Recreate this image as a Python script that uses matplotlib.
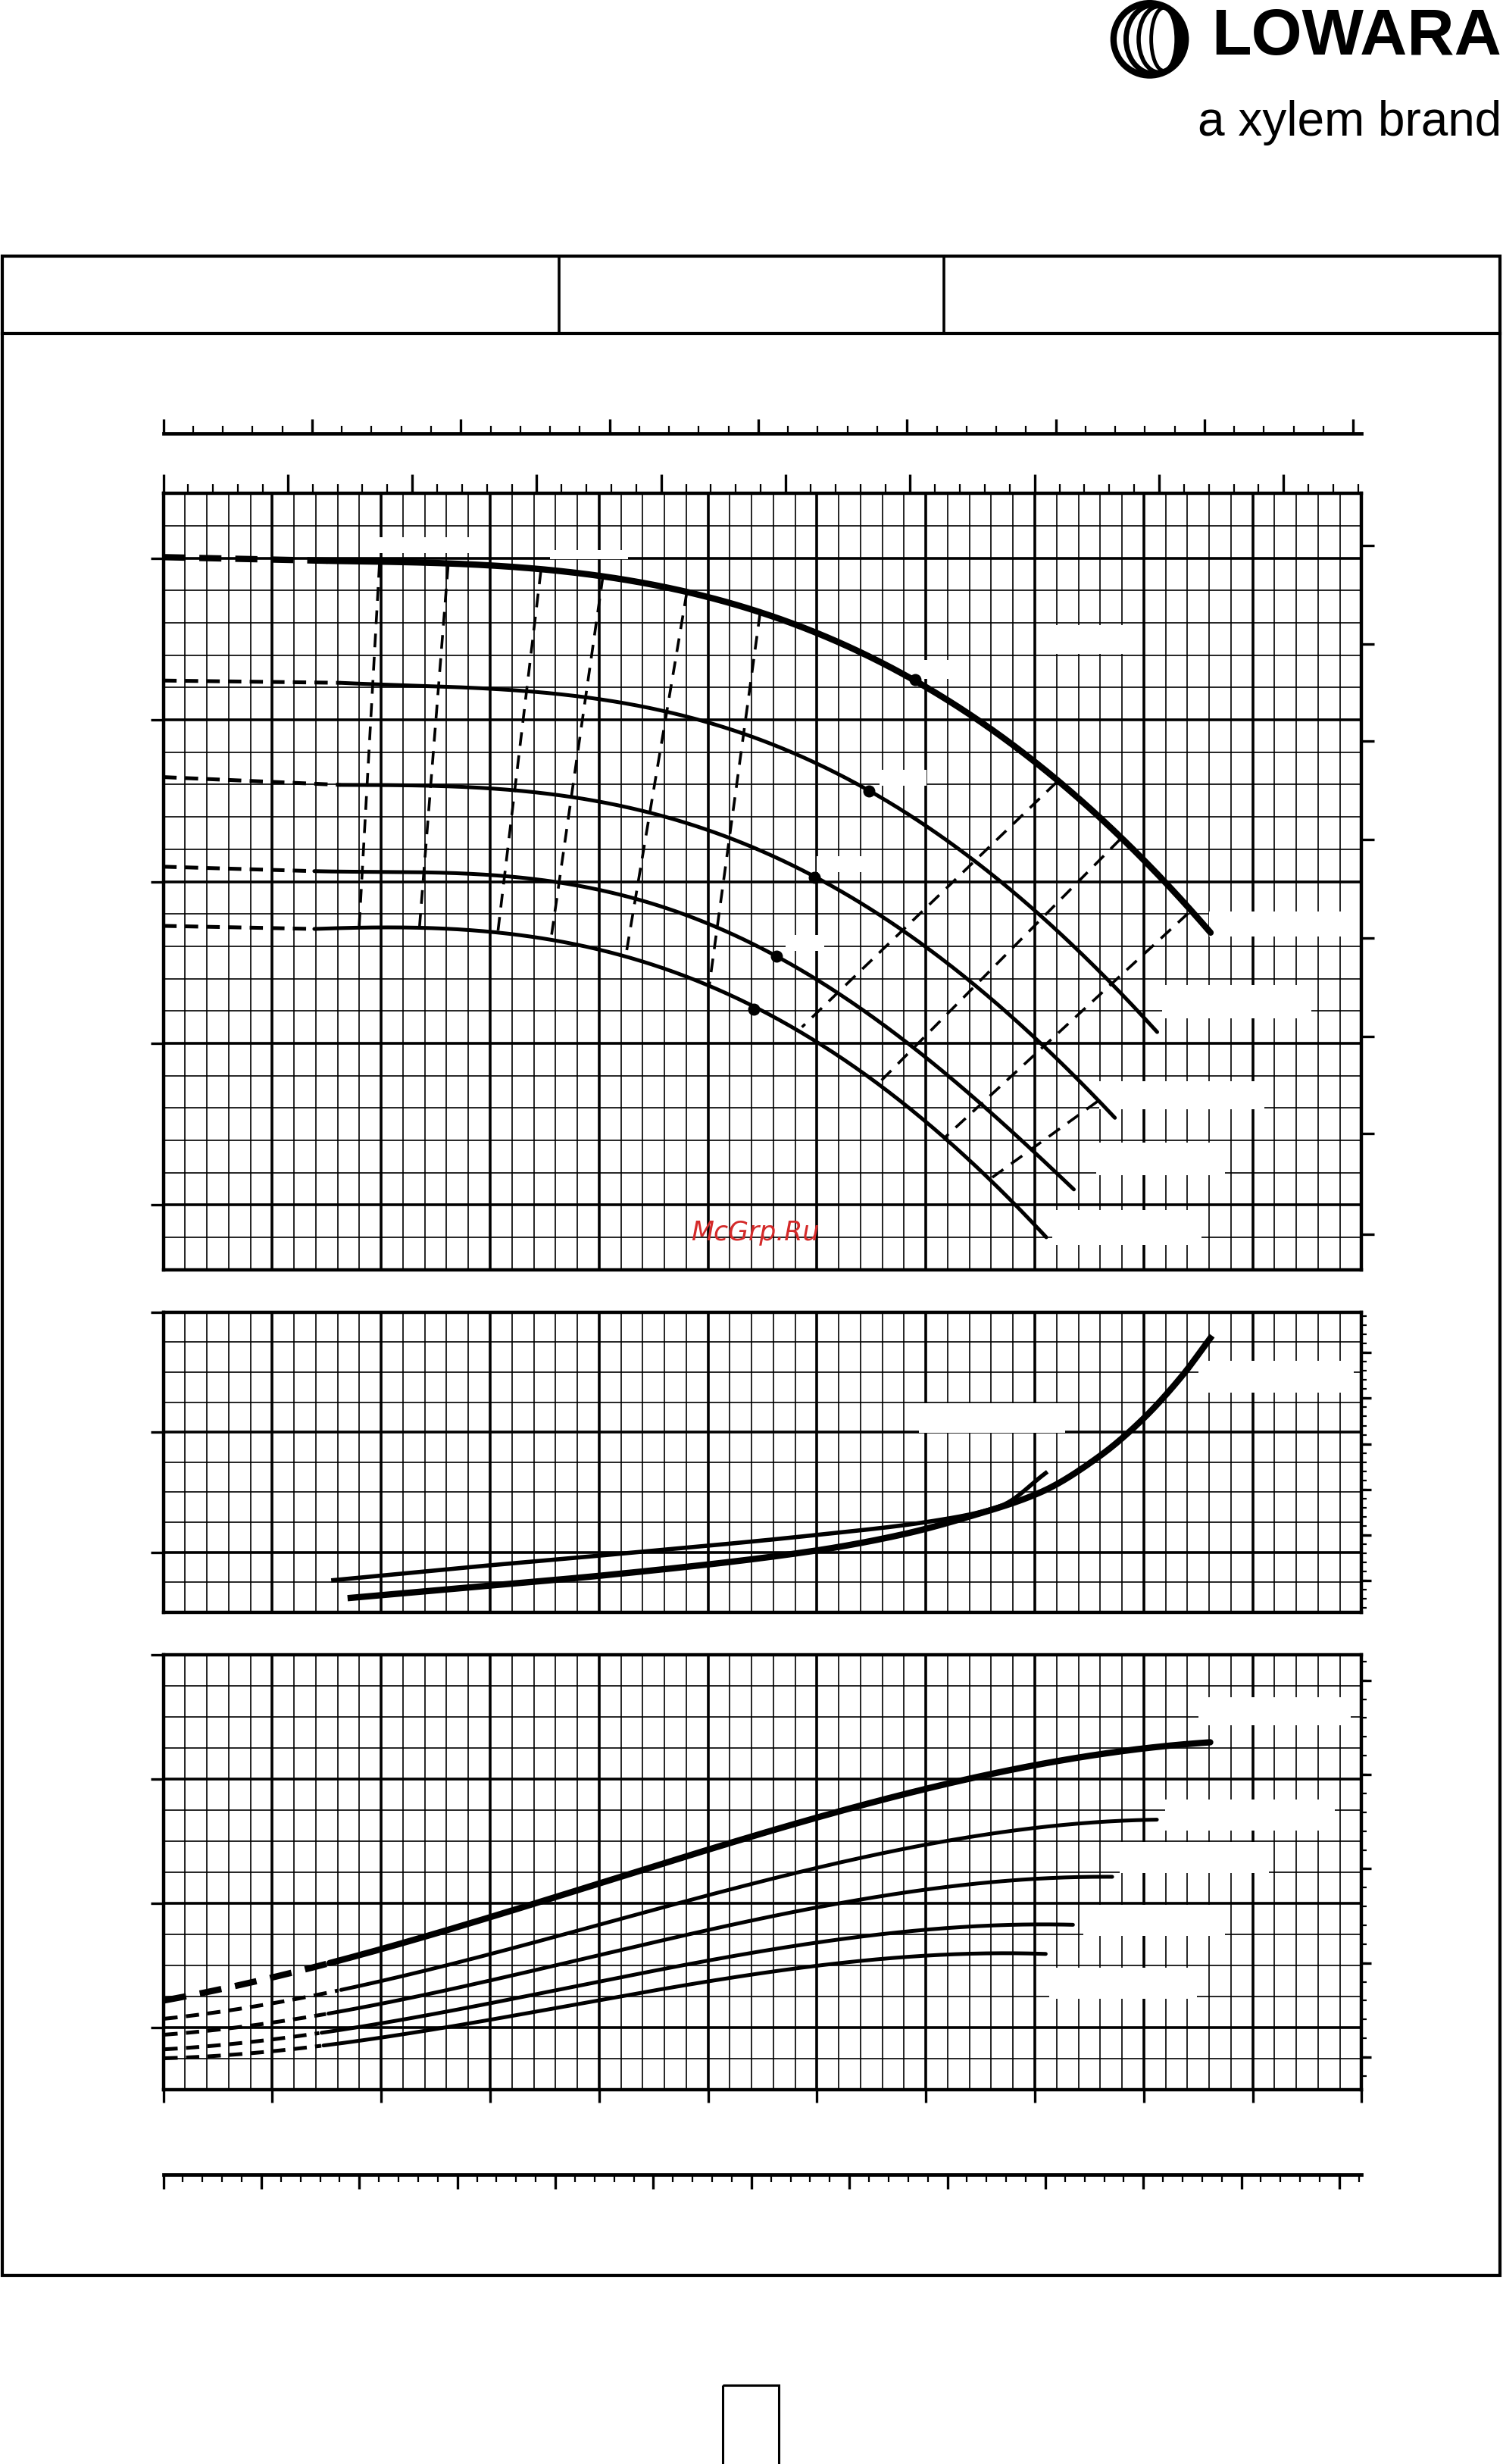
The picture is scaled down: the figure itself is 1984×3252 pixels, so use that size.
import numpy as np
import matplotlib
matplotlib.use("Agg")
import matplotlib.pyplot as plt
from matplotlib.patches import Rectangle, Ellipse

# ---- data (x in flow units = major grid columns) ----
# head curves: read points and the x where the dashed start ends
h_x = [
    [0, 1.506, 1.984, 2.602, 3.339, 3.996, 4.813, 5.45, 6.013, 6.903, 7.521, 8.199, 8.784, 9.217, 9.613],
    [0, 1.625, 2.542, 3.339, 3.996, 4.813, 5.331, 6.013, 6.477, 6.993, 7.521, 8.011, 8.501, 9.123],
    [0, 1.625, 2.542, 3.339, 3.996, 4.534, 5.331, 5.975, 6.616, 7.370, 8.011, 8.388, 8.735],
    [0, 1.386, 2.143, 3.06, 3.737, 4.335, 5.131, 5.628, 6.239, 6.88, 7.521, 7.973, 8.358],
    [0, 1.386, 2.143, 2.94, 3.578, 4.135, 4.733, 5.417, 6.013, 6.616, 7.182, 7.596, 8.105],
]
h_y = [
    [4.406, 4.385, 4.375, 4.364, 4.35, 4.295, 4.176, 4.061, 3.946, 3.648, 3.378, 3.027, 2.676, 2.379, 2.087],
    [3.643, 3.626, 3.611, 3.58, 3.528, 3.413, 3.308, 3.122, 2.959, 2.757, 2.514, 2.216, 1.865, 1.487],
    [3.046, 2.998, 2.99, 2.957, 2.9, 2.806, 2.639, 2.427, 2.189, 1.784, 1.433, 1.19, 0.933],
    [2.492, 2.465, 2.461, 2.433, 2.377, 2.293, 2.136, 1.938, 1.649, 1.379, 1.028, 0.757, 0.482],
    [2.126, 2.111, 2.111, 2.084, 2.042, 1.969, 1.843, 1.609, 1.392, 1.122, 0.812, 0.568, 0.19],
]
h_dash_end = [1.506, 1.625, 1.625, 1.386, 1.386]
h_widths = [6.0, 3.6, 3.6, 3.6, 3.6]

# best efficiency points
bep_x = [6.903, 6.477, 5.975, 5.628, 5.417]
bep_h = [3.648, 2.959, 2.427, 1.938, 1.609]

# iso-efficiency dashed lines (x0, h0, x1, h1)
iso_left = [(1.984, 4.364, 1.797, 2.115), (2.614, 4.354, 2.351, 2.115),
            (3.466, 4.323, 3.072, 2.095), (4.036, 4.291, 3.558, 2.042),
            (4.805, 4.187, 4.247, 1.948), (5.478, 4.061, 5.012, 1.760)]
iso_right = [(8.199, 3.014, 5.862, 1.500), (8.784, 2.662, 6.541, 1.136),
             (9.406, 2.203, 7.163, 0.811), (8.576, 1.041, 7.577, 0.555)]

# middle chart
p_thin_x = [1.56, 2.80, 4.07, 6.03, 7.08, 7.69, 8.10]
p_thin_y = [1.07, 1.50, 1.91, 2.59, 3.05, 3.55, 4.64]
p_thick_x = [1.72, 2.90, 4.07, 5.96, 6.78, 7.38, 8.06, 8.59, 8.97, 9.35, 9.61]
p_thick_y = [0.48, 0.86, 1.24, 2.04, 2.59, 3.17, 4.01, 5.19, 6.36, 7.87, 9.13]

# bottom chart curves
e_x = [
    [0.01, 0.90, 1.52, 2.56, 3.46, 4.45, 5.95, 7.08, 8.21, 9.61],
    [0.01, 1.05, 1.62, 2.56, 3.77, 5.95, 7.46, 9.12],
    [0.01, 1.05, 1.50, 2.94, 4.97, 6.33, 8.71],
    [0.01, 1.05, 1.45, 2.94, 4.97, 7.08, 8.35],
    [0.01, 1.05, 1.45, 2.94, 4.97, 6.60, 8.10],
]
e_y = [
    [2.92, 3.53, 4.02, 5.06, 6.06, 7.22, 8.74, 9.72, 10.52, 11.22],
    [2.36, 2.79, 3.10, 3.90, 5.31, 7.09, 8.07, 8.74],
    [1.85, 2.12, 2.35, 3.59, 5.19, 5.98, 6.88],
    [1.38, 1.58, 1.74, 2.85, 4.20, 5.06, 5.37],
    [1.08, 1.20, 1.35, 2.30, 3.55, 4.10, 4.42],
]
e_dash_end = [1.52, 1.62, 1.50, 1.45, 1.45]
e_widths = [6.0, 3.6, 3.6, 3.6, 3.6]

W, H = 957.0, 1568.0
DASH = (0, (3.5, 2.2))


def box(x0, y0, x1, y1):
    return [x0 / W, 1 - y1 / H, (x1 - x0) / W, (y1 - y0) / H]


def pchip(x, y, n=400):
    # monotone cubic (Fritsch-Carlson) through the read points
    x = np.asarray(x, float)
    y = np.asarray(y, float)
    h = np.diff(x)
    d = np.diff(y) / h
    m = np.zeros_like(y)
    m[0], m[-1] = d[0], d[-1]
    for i in range(1, len(x) - 1):
        if d[i - 1] * d[i] <= 0:
            m[i] = 0
        else:
            w1, w2 = 2 * h[i] + h[i - 1], h[i] + 2 * h[i - 1]
            m[i] = (w1 + w2) / (w1 / d[i - 1] + w2 / d[i])
    xs = np.linspace(x[0], x[-1], n)
    k = np.clip(np.searchsorted(x, xs) - 1, 0, len(x) - 2)
    t = (xs - x[k]) / h[k]
    h00 = 2 * t ** 3 - 3 * t ** 2 + 1
    h10 = t ** 3 - 2 * t ** 2 + t
    h01 = -2 * t ** 3 + 3 * t ** 2
    h11 = t ** 3 - t ** 2
    ys = h00 * y[k] + h10 * h[k] * m[k] + h01 * y[k + 1] + h11 * h[k] * m[k + 1]
    return xs, ys


def draw_head(ax, x, y, xd, lw):
    # solid part: least-squares smoothing of the read points; dashed start: straight
    x = np.asarray(x, float)
    y = np.asarray(y, float)
    sel = x >= xd - 1e-9
    c = np.polyfit(x[sel], y[sel], 4)
    xs = np.linspace(xd, x[-1], 400)
    ys = np.polyval(c, xs)
    ax.plot([x[0], xd], [y[0], ys[0]], color="black", lw=lw, ls=DASH, zorder=3)
    ax.plot(xs, ys, color="black", lw=lw, zorder=3, solid_capstyle="round")


def draw_power(ax, x, y, xd, lw):
    c = np.polyfit(x, y, 3)
    xs = np.linspace(x[0], x[-1], 400)
    ys = np.polyval(c, xs)
    d = xs <= xd
    ax.plot(xs[d], ys[d], color="black", lw=lw, ls=DASH, zorder=3)
    s = xs >= xd
    ax.plot(xs[s], ys[s], color="black", lw=lw, zorder=3, solid_capstyle="round")


def grid(ax, xmax, ymax, ystep, ymajors):
    for xv in np.arange(0, xmax + 1e-6, 0.2):
        major = abs(xv - round(xv)) < 1e-6
        ax.axvline(xv, color="black", lw=2.6 if major else 1.2, zorder=1)
    for yv in np.arange(ymajors[0] % ystep, ymax + 1e-6, ystep):
        major = any(abs(yv - m) < 1e-6 for m in ymajors)
        ax.axhline(yv, color="black", lw=2.6 if major else 1.2, zorder=1)
    ax.set_xlim(0, xmax)
    ax.set_ylim(0, ymax)
    for s in ax.spines.values():
        s.set_linewidth(3.2)
    ax.set_xticks([])
    ax.set_yticks([])


def right_ticks(ax, majors, minors, major_len=12, minor_len=6):
    t = ax.twinx()
    t.set_ylim(ax.get_ylim())
    t.set_yticks(majors)
    t.set_yticks(minors, minor=True)
    t.tick_params(axis="y", which="major", length=major_len, width=2.4, labelright=False)
    t.tick_params(axis="y", which="minor", length=minor_len, width=1.6)
    for s in t.spines.values():
        s.set_visible(False)
    return t


def white(ax, rects):
    for (x0, y0, x1, y1) in rects:
        ax.add_patch(Rectangle((x0 / W, 1 - y1 / H), (x1 - x0) / W, (y1 - y0) / H,
                               transform=ax.figure.transFigure, facecolor="white",
                               edgecolor="none", zorder=1.5))


fig = plt.figure(figsize=(19.84, 32.52), dpi=100)

# page frame
frame = fig.add_axes([0, 0, 1, 1])
frame.set_xlim(0, W)
frame.set_ylim(H, 0)
frame.axis("off")
frame.add_patch(Rectangle((1.5, 163), 953.5, 1285, fill=False, lw=3.0, ec="black"))
frame.plot([1.5, 955], [212, 212], color="black", lw=3.0)
frame.plot([356, 356], [163, 212], color="black", lw=2.6)
frame.plot([601, 601], [163, 212], color="black", lw=2.6)
frame.add_patch(Rectangle((460, 1518), 36, 60, fill=False, lw=2.2, ec="black"))

# logo
for i, (w, lw) in enumerate([(46, 6), (36, 5), (26, 4), (16, 3.5)]):
    frame.add_patch(Ellipse((732 + i * 3, 25), w, 46 - i * 2, fill=False, lw=lw, ec="black"))
frame.text(956, 24, "LOWARA", ha="right", va="center", fontsize=62,
           fontweight="bold", family="Liberation Sans", color="black")
frame.text(956, 78, "a xylem brand", ha="right", va="center", fontsize=46,
           family="Liberation Sans", color="black")

# top scale 1
s1 = fig.add_axes(box(104, 270, 867, 276))
s1.set_xlim(0, 763 / 94.7)
for k in ("top", "left", "right"):
    s1.spines[k].set_visible(False)
s1.spines["bottom"].set_linewidth(3.4)
s1.set_yticks([])
s1.set_xticks(np.arange(0, 9))
s1.set_xticks(np.arange(0, 8.06, 0.2), minor=True)
s1.tick_params(axis="x", which="major", direction="in", length=14, width=2.4, labelbottom=False)
s1.tick_params(axis="x", which="minor", direction="in", length=7, width=1.6)
s1.patch.set_alpha(0)

# head chart
axh = fig.add_axes(box(104, 314, 867, 808))
grid(axh, 11, 4.80, 0.2, [0.4, 1.4, 2.4, 3.4, 4.4])
axh.set_yticks([0.4, 1.4, 2.4, 3.4, 4.4])
axh.tick_params(axis="y", length=12, width=2.4, labelleft=False)
right_ticks(axh, [4.48, 3.87, 3.27, 2.66, 2.05, 1.44, 0.84, 0.22], [])
top = axh.twiny()
top.set_xlim(0, 11)
top.set_xticks(np.arange(0, 11.01, 1.1425))
top.set_xticks(np.arange(0, 11.01, 0.2285), minor=True)
top.tick_params(axis="x", which="major", length=18, width=2.4, labeltop=False)
top.tick_params(axis="x", which="minor", length=9, width=1.6)
for s in top.spines.values():
    s.set_visible(False)
white(axh, [(668, 398, 726, 416), (770, 580, 867, 596), (740, 627, 835, 648),
            (700, 688, 805, 706), (698, 727, 780, 748), (670, 770, 765, 792),
            (240, 342, 300, 352), (350, 350, 400, 356), (585, 420, 615, 432),
            (560, 490, 590, 500), (520, 545, 550, 555), (500, 595, 525, 605)])
for x, y, xd, lw in zip(h_x, h_y, h_dash_end, h_widths):
    draw_head(axh, x, y, xd, lw)
for (x0, y0, x1, y1) in iso_left + iso_right:
    axh.plot([x0, x1], [y0, y1], color="black", lw=2.6, ls=(0, (5, 3.5)), zorder=3)
axh.scatter(bep_x, bep_h, s=110, color="black", zorder=4)
axh.text(0.494, 0.048, "McGrp.Ru", transform=axh.transAxes, ha="center", va="center",
         fontsize=25, color="#d42a2a", style="italic", zorder=5)

# middle chart
axp = fig.add_axes(box(104, 835, 867, 1026))
grid(axp, 11, 10, 1, [2, 6])
axp.set_yticks([2, 6, 10])
axp.tick_params(axis="y", length=12, width=2.4, labelleft=False)
pm = [1.05 + 1.52 * k for k in range(6)]
right_ticks(axp, pm, np.arange(0.14, 10, 0.304), major_len=9, minor_len=5)
white(axp, [(585, 893, 678, 912), (763, 866, 862, 886)])
xs, ys = pchip(p_thin_x, p_thin_y)
axp.plot(xs, ys, color="black", lw=4.0, zorder=3)
xs, ys = pchip(p_thick_x, p_thick_y)
axp.plot(xs, ys, color="black", lw=6.0, zorder=3)

# bottom chart
axe = fig.add_axes(box(104, 1053, 867, 1330))
grid(axe, 11, 14, 1, [2, 6, 10])
axe.set_yticks([2, 6, 10, 14])
axe.tick_params(axis="y", length=12, width=2.4, labelleft=False)
axe.set_xticks(np.arange(0, 12))
axe.tick_params(axis="x", length=12, width=2.4, labelbottom=False)
em = [1.06 + 3.03 * k for k in range(5)]
right_ticks(axe, em, np.arange(0.45, 14, 0.606), major_len=9, minor_len=5)
white(axe, [(763, 1080, 860, 1098), (742, 1145, 850, 1165), (713, 1172, 808, 1192),
            (690, 1212, 780, 1232), (668, 1252, 762, 1272)])
for x, y, xd, lw in zip(e_x, e_y, e_dash_end, e_widths):
    draw_power(axe, x, y, xd, lw)

# bottom scale
s2 = fig.add_axes(box(104, 1384, 867, 1392))
s2.set_xlim(0, 763 / 62.4)
for k in ("bottom", "left", "right"):
    s2.spines[k].set_visible(False)
s2.spines["top"].set_linewidth(3.4)
s2.set_yticks([])
s2.xaxis.set_ticks_position("top")
s2.set_xticks(np.arange(0, 13))
s2.set_xticks(np.arange(0, 12.23, 0.2), minor=True)
s2.tick_params(axis="x", which="major", direction="in", length=14, width=2.4, labeltop=False)
s2.tick_params(axis="x", which="minor", direction="in", length=7, width=1.6)
s2.patch.set_alpha(0)

fig.savefig("out.png", dpi=100)
